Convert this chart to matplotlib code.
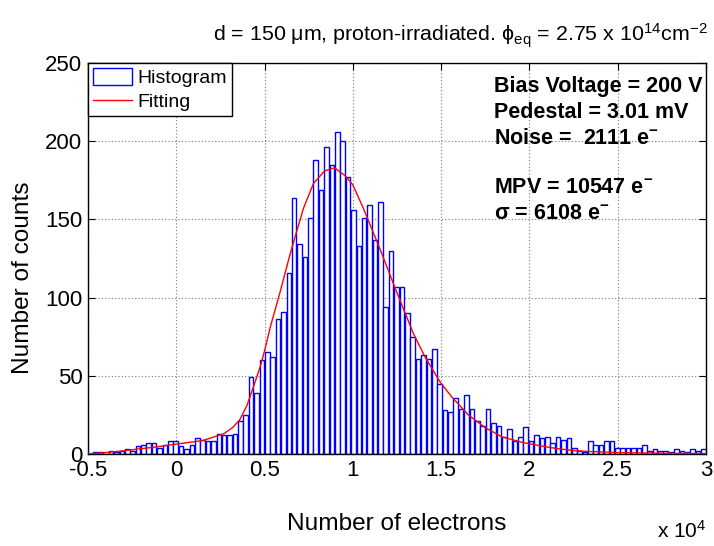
import numpy as np
import matplotlib
matplotlib.use("Agg")
from matplotlib import pyplot as plt
from matplotlib.patches import Patch
from matplotlib.lines import Line2D

plt.rcParams['font.family'] = ['Liberation Sans', 'DejaVu Sans']
plt.rcParams['mathtext.fontset'] = 'custom'
plt.rcParams['mathtext.rm'] = 'Liberation Sans'
plt.rcParams['mathtext.it'] = 'Liberation Sans:italic'
plt.rcParams['mathtext.bf'] = 'Liberation Sans:bold'

# histogram, bins in electrons
bin_start = -5065
bin_width = 305
counts = [0, 1, 1, 0, 2, 1, 2, 3, 2, 5, 6, 7, 7, 4, 6, 8, 8, 5, 3, 6,
          10, 9, 8, 8, 13, 12, 12, 13, 21, 25, 49, 39, 60,
          65, 62, 86, 91, 116, 164, 134, 126, 151, 188, 169, 196, 185, 206, 200, 177,
          156, 133, 151, 159, 137, 161, 94, 130, 107, 107, 90, 75, 61, 63, 61, 67,
          45, 28, 27, 36, 29, 38, 29, 21, 18, 29, 20, 18, 11, 16, 8, 11, 17, 8,
          12, 10, 11, 7, 11, 9, 10, 4, 2, 1, 8, 6, 6, 8, 8, 4, 4, 4, 4, 4, 6,
          2, 3, 2, 2, 1, 3, 2, 1, 3, 2, 3]

# fitted curve (x in units of 1e4 electrons)
fit_x = [-0.5, -0.45, -0.32, -0.13, 0.0, 0.15, 0.27, 0.32, 0.36, 0.40, 0.44,
         0.476, 0.5, 0.532, 0.589, 0.645, 0.72, 0.777, 0.84, 0.896, 0.956,
         1.0, 1.06, 1.154, 1.25, 1.343, 1.409, 1.494, 1.56, 1.654, 1.748,
         1.843, 1.965, 2.059, 2.154, 2.248, 2.34, 2.5, 2.75, 3.0]
fit_y = [0.2, 0.4, 1.8, 4.3, 6.3, 8.6, 13, 17, 22, 31, 44, 56, 66, 81, 104,
         128, 157, 173, 181, 183, 178, 172, 157, 131, 103, 77, 62, 46, 36.5,
         25, 17, 11, 7.3, 5.3, 3.5, 2.2, 1.6, 0.9, 0.5, 0.3]

info_lines = ["Bias Voltage = 200 V", "Pedestal = 3.01 mV",
              r"Noise =  2111 e$^{\mathbf{-}}$", r"MPV = 10547 e$^{\mathbf{-}}$",
              r"σ = 6108 e$^{\mathbf{-}}$"]
info_y = [231.5, 215, 198.5, 167, 150.5]

edges = (bin_start + bin_width * np.arange(len(counts) + 1)) / 1e4
centers = (edges[:-1] + edges[1:]) / 2

fig = plt.figure(figsize=(7.14, 5.46), dpi=100)
ax = fig.add_axes([88 / 714, 92 / 546, 618 / 714, 391 / 546])

ax.bar(centers, counts, width=0.85 * bin_width / 1e4, facecolor='white',
       edgecolor='blue', linewidth=1.0, zorder=2)
ax.plot(fit_x, fit_y, color='red', linewidth=1, zorder=3)

ax.set_xlim(-0.5, 3)
ax.set_ylim(0, 250)
ax.set_xticks([-0.5, 0, 0.5, 1, 1.5, 2, 2.5, 3])
ax.set_xticklabels(['-0.5', '0', '0.5', '1', '1.5', '2', '2.5', '3'])
ax.set_yticks([0, 50, 100, 150, 200, 250])
ax.tick_params(direction='in', top=True, right=True, length=5, labelsize=16, pad=4)
ax.grid(True, color='#777777', linestyle=(0, (1, 2)), linewidth=0.8, zorder=0)
ax.set_axisbelow(True)
for s in ax.spines.values():
    s.set_linewidth(1)

ax.set_xlabel("Number of electrons", fontsize=17.6, labelpad=23)
ax.set_ylabel("Number of counts", fontsize=17.6)
ax.yaxis.set_label_coords(-0.088, 0.45)

fig.text(213 / 714, 1 - 42 / 546,
         r"d = 150 μm, proton-irradiated. ϕ$_{\mathrm{eq}}$ = 2.75 x 10$^{14}$cm$^{-2}$",
         fontsize=15.4, ha='left', va='baseline')
fig.text(706 / 714, 1 - 538 / 546, r"x 10$^{4}$", fontsize=15, ha='right', va='baseline')

for txt, yy in zip(info_lines, info_y):
    ax.text(1.8, yy, txt, fontsize=15.5, fontweight='bold', ha='left', va='baseline', zorder=5)

handles = [Patch(facecolor='white', edgecolor='blue', linewidth=1.0),
           Line2D([0], [0], color='red', linewidth=1)]
leg = ax.legend(handles, ["Histogram", "Fitting"], loc='upper left',
                bbox_to_anchor=(0, 1), borderaxespad=0, fancybox=False,
                edgecolor='black', framealpha=1, fontsize=14,
                handlelength=2.0, handleheight=1.0, handletextpad=0.3,
                borderpad=0.25, labelspacing=0.25)
leg.get_frame().set_linewidth(1)

fig.savefig("out.png", dpi=100)
